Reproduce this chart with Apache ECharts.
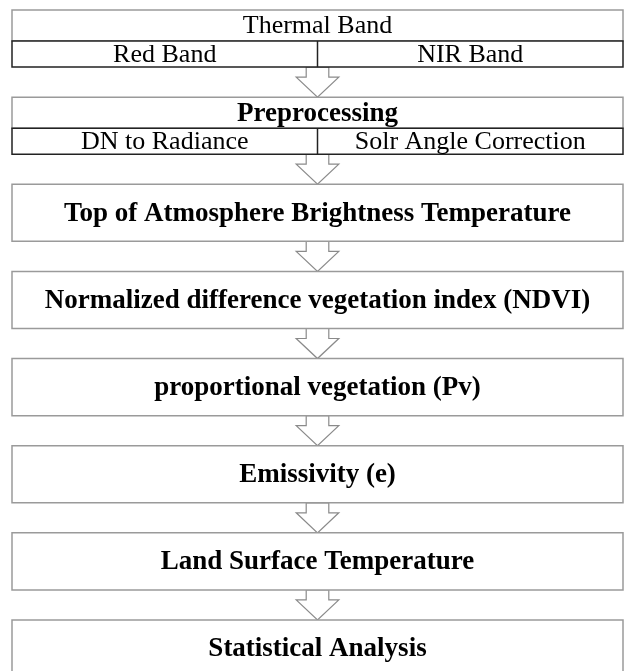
<!DOCTYPE html>
<html>
<head>
<meta charset="utf-8">
<script src="https://cdn.jsdelivr.net/npm/echarts@6/dist/echarts.min.js"></script>
<style>
  html, body { margin: 0; padding: 0; background: #fff; }
  #chartFlowBox { width: 629px; height: 671px; }
</style>
</head>
<body>
<div id="chartFlowBox"></div>
<script>
// flow steps, top to bottom
var steps = [
  "Thermal Band",
  "Preprocessing",
  "Top of Atmosphere Brightness Temperature",
  "Normalized difference vegetation index (NDVI)",
  "proportional vegetation (Pv)",
  "Emissivity (e)",
  "Land Surface Temperature",
  "Statistical Analysis"
];
// second row of the first two boxes (left / right cell)
var subLeft = ["Red Band", "DN to Radiance"];
var subRight = ["NIR Band", "Solr Angle Correction"];

var BOX_SPAN = 0.655;   // part of one step taken by the box, rest is the arrow
var HEAD_FRAC = 0.545;  // header row share in the two-row boxes
var STEP_PX = 87.14;    // one step in pixels
var FONT = '"Liberation Serif", "Times New Roman", serif';

var stepData = steps.map(function (s, i) { return [i]; });
var arrowData = steps.slice(1).map(function (s, i) { return [i]; });

function renderStep(params, api) {
  var i = api.value(0);
  var p0 = api.coord([0, i]);
  var p1 = api.coord([1, i + BOX_SPAN]);
  var x = p0[0], y = p0[1], w = p1[0] - p0[0], h = p1[1] - p0[1];
  var hasSub = i < subLeft.length;
  var headH = hasSub ? Math.round(h * HEAD_FRAC) : h;
  var children = [];
  children.push({
    type: "rect",
    shape: { x: x, y: y, width: w, height: headH },
    style: { fill: "#fff", stroke: "#9a9a9a", lineWidth: 1.5 }
  });
  children.push({
    type: "text",
    style: {
      x: x + w / 2, y: y + headH / 2 + 1,
      text: steps[i],
      fill: "#000",
      font: (i === 0 ? "normal " : "bold ") + (i === 0 ? 26 : 27) + "px " + FONT,
      align: "center", verticalAlign: "middle"
    }
  });
  if (hasSub) {
    var sy = y + headH, sh = h - headH;
    var mid = api.coord([0.5, i])[0];
    children.push({
      type: "rect",
      shape: { x: x, y: sy, width: w, height: sh },
      style: { fill: "#fff", stroke: "#222", lineWidth: 1.5 }
    });
    children.push({
      type: "line",
      shape: { x1: mid, y1: sy, x2: mid, y2: sy + sh },
      style: { stroke: "#222", lineWidth: 1.5 }
    });
    children.push({
      type: "text",
      style: {
        x: (x + mid) / 2, y: sy + sh / 2 + 1,
        text: subLeft[i], fill: "#000",
        font: "normal 26px " + FONT, align: "center", verticalAlign: "middle"
      }
    });
    children.push({
      type: "text",
      style: {
        x: (mid + x + w) / 2, y: sy + sh / 2 + 1,
        text: subRight[i], fill: "#000",
        font: "normal 26px " + FONT, align: "center", verticalAlign: "middle"
      }
    });
  }
  return { type: "group", children: children };
}

function renderArrow(params, api) {
  var i = api.value(0);
  var top = api.coord([0.5, i + BOX_SPAN]);
  var tip = api.coord([0.5, i + 1]);
  var cx = top[0];
  var sw = 11.3, hw = 21.3, shaft = 10;
  var sy = top[1] + shaft;
  return {
    type: "polygon",
    shape: {
      points: [
        [cx - sw, top[1]], [cx - sw, sy], [cx - hw, sy], [cx, tip[1]],
        [cx + hw, sy], [cx + sw, sy], [cx + sw, top[1]]
      ]
    },
    style: { fill: "#fff", stroke: "#8a8a8a", lineWidth: 1.2 }
  };
}

var chartFlow = echarts.init(document.getElementById("chartFlowBox"));
// the last box runs past the bottom edge of the picture
var yMax = (671 - 10) / STEP_PX;
var option = {
  backgroundColor: "#fff",
  animation: false,
  grid: { left: 12, right: 6, top: 10, bottom: 0 },
  xAxis: { type: "value", min: 0, max: 1, show: false },
  yAxis: { type: "value", min: 0, max: yMax, inverse: true, show: false },
  series: [
    {
      type: "custom",
      name: "arrows",
      renderItem: renderArrow,
      data: arrowData,
      clip: false,
      silent: true
    },
    {
      type: "custom",
      name: "steps",
      renderItem: renderStep,
      data: stepData,
      clip: false,
      silent: true
    }
  ]
};
chartFlow.setOption(option);
</script>
</body>
</html>
